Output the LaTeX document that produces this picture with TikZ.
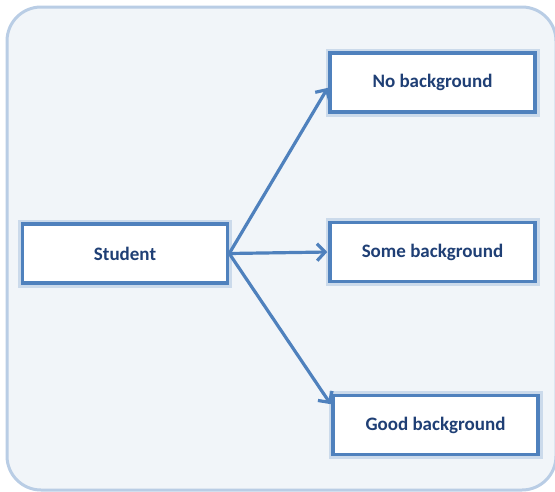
\documentclass[tikz,border=0pt]{standalone}
\usepackage{fontspec}
\setmainfont{Carlito}
\usetikzlibrary{arrows.meta}
\definecolor{bgfill}{HTML}{F1F5F9}
\definecolor{bgline}{HTML}{B9CDE5}
\definecolor{boxline}{HTML}{4F81BD}
\definecolor{txt}{HTML}{1F3F75}
\begin{document}
\begin{tikzpicture}[x=1pt,y=-1pt,
  box/.style={draw=boxline,line width=3.5pt,fill=white,minimum width=205pt,minimum height=59pt,
    font=\fontsize{19}{22}\selectfont\bfseries,text=txt,inner sep=0pt,
    preaction={draw=boxline!50,line width=9pt,opacity=0.5}},
  conn/.style={draw=boxline,line width=3.2pt,-{Straight Barb[length=8pt,width=17pt,line width=3.2pt]},shorten >=1pt}]
\useasboundingbox (0,0) rectangle (555,491);
\begin{scope}
\clip (0,0) rectangle (555,491);
\draw[draw=bgline,line width=3pt,fill=bgfill,rounded corners=34pt] (7,7) rectangle (556,490);
\end{scope}
\node[box] (student) at (125,253.5) {Student};
\node[box] (nobg) at (432.5,82.5) {No background};
\node[box] (somebg) at (432.5,252) {Some background};
\node[box] (goodbg) at (435.5,425) {Good background};
\draw[conn] (student.east) -- (nobg.west |- 0,87);
\draw[conn] (student.east) -- (somebg.west);
\draw[conn] (student.east) -- (goodbg.west |- 0,405);
\end{tikzpicture}
\end{document}
